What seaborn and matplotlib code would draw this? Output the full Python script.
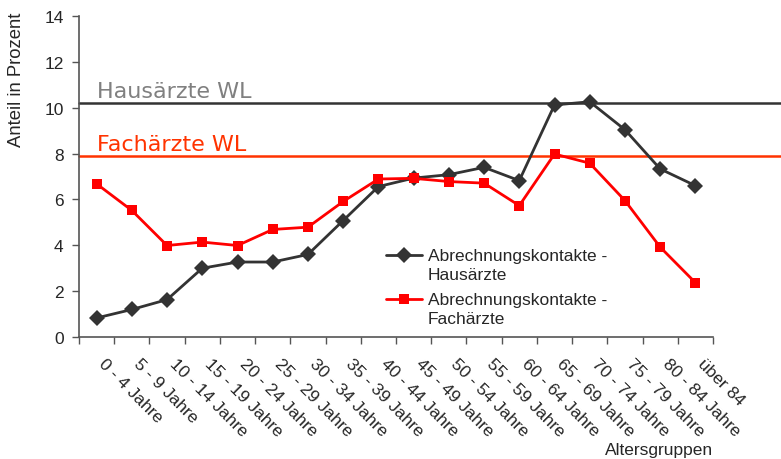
import numpy as np
import pandas as pd
import matplotlib
matplotlib.use("Agg")
import matplotlib.pyplot as plt
import matplotlib.transforms as mtransforms
from matplotlib.legend_handler import HandlerLine2D
import seaborn as sns

# ── Data ──────────────────────────────────────────────────────────────────────

age_groups = ["0 - 4 Jahre", "5 - 9 Jahre", "10 - 14 Jahre", "15 - 19 Jahre",
              "20 - 24 Jahre", "25 - 29 Jahre", "30 - 34 Jahre", "35 - 39 Jahre",
              "40 - 44 Jahre", "45 - 49 Jahre", "50 - 54 Jahre", "55 - 59 Jahre",
              "60 - 64 Jahre", "65 - 69 Jahre", "70 - 74 Jahre", "75 - 79 Jahre",
              "80 - 84 Jahre", "über 84"]
hausaerzte = [0.83, 1.20, 1.63, 3.00, 3.27, 3.27, 3.60, 5.08, 6.56,
              6.93, 7.08, 7.40, 6.82, 10.12, 10.26, 9.04, 7.33, 6.60]
fachaerzte = [6.68, 5.52, 3.99, 4.14, 3.99, 4.69, 4.79, 5.91, 6.89,
              6.92, 6.78, 6.71, 5.73, 7.98, 7.58, 5.95, 3.92, 2.37]
wl_haus = 10.19
wl_fach = 7.91

label_haus = "Abrechnungskontakte -\nHausärzte"
label_fach = "Abrechnungskontakte -\nFachärzte"

df = pd.DataFrame({
    "pos": list(range(len(age_groups))) * 2,
    "wert": hausaerzte + fachaerzte,
    "serie": [label_haus] * len(age_groups) + [label_fach] * len(age_groups),
})


# legend handle sitting next to the first text line (Excel style)
class HandlerFirstLine(HandlerLine2D):
    def __init__(self, dy, **kw):
        super().__init__(**kw)
        self.dy = dy

    def create_artists(self, legend, orig_handle, xdescent, ydescent,
                       width, height, fontsize, trans):
        arts = super().create_artists(legend, orig_handle, xdescent, ydescent,
                                      width, height, fontsize, trans)
        for a in arts:
            a.set_ydata(np.asarray(a.get_ydata()) + self.dy)
        return arts


# ── Style ─────────────────────────────────────────────────────────────────────

sns.set_theme(style="white")
plt.rcParams["font.family"] = ["Liberation Sans", "DejaVu Sans"]

W, H = 781, 460
fig = plt.figure(figsize=(W / 100, H / 100), dpi=100)
ax = fig.add_axes([79 / W, 1 - 338 / H, (713 - 79) / W, (338 - 17) / H])

sns.lineplot(data=df, x="pos", y="wert", hue="serie", style="serie",
             palette={label_haus: "#333333", label_fach: "#FF0000"},
             markers={label_haus: "D", label_fach: "s"},
             dashes=False, linewidth=2.0, markersize=7.8,
             markeredgewidth=0, ax=ax, legend=False, zorder=3)

# reference lines reach to the figure edge
ext = (W - 79) / (713 - 79)
ax.axhline(wl_haus, xmin=0, xmax=ext, color="#333333", lw=1.8, clip_on=False, zorder=2)
ax.axhline(wl_fach, xmin=0, xmax=ext, color="#FF3300", lw=1.8, clip_on=False, zorder=2)
ax.text(0, 10.46, "Hausärzte WL", color="#808080", fontsize=16,
        family="DejaVu Sans", ha="left", va="baseline")
ax.text(0, 8.15, "Fachärzte WL", color="#FF3300", fontsize=16,
        family="DejaVu Sans", ha="left", va="baseline")

# ── Axes ──────────────────────────────────────────────────────────────────────

ax.set_xlim(-0.5, len(age_groups) - 0.5)
ax.set_ylim(0, 14)
ax.set_yticks(np.arange(0, 15, 2))
ax.tick_params(axis="y", labelsize=12.5, length=5, width=1, color="#555555",
               left=True, pad=6)

ax.set_xticks(range(len(age_groups)))
ax.set_xticks(np.arange(-0.5, len(age_groups)), minor=True)
ax.set_xticklabels(age_groups, rotation=-45, ha="left", va="top",
                   rotation_mode="anchor", fontsize=12.5)
ax.tick_params(axis="x", which="major", length=0, pad=13)
ax.tick_params(axis="x", which="minor", length=5, width=1, color="#555555",
               bottom=True)
offset = mtransforms.ScaledTranslation(10 / 100, 0, fig.dpi_scale_trans)
for lbl in ax.get_xticklabels():
    lbl.set_transform(lbl.get_transform() + offset)

for side in ["top", "right"]:
    ax.spines[side].set_visible(False)
for side in ["left", "bottom"]:
    ax.spines[side].set_color("#555555")
    ax.spines[side].set_linewidth(1.2)
ax.grid(False)
ax.set_xlabel("")
ax.set_ylabel("")

fig.text(17 / W, 1 - 80 / H, "Anteil in Prozent", rotation=90,
         ha="center", va="center", fontsize=13.3)
fig.text(713 / W, 1 - 451 / H, "Altersgruppen", ha="right", va="center",
         fontsize=12.5)

# ── Legend ────────────────────────────────────────────────────────────────────

h1, = ax.plot([], [], color="#333333", marker="D", lw=2.0, ms=7.8, mew=0)
h2, = ax.plot([], [], color="#FF0000", marker="s", lw=2.0, ms=7.8, mew=0)
leg = ax.legend([h1, h2], [label_haus, label_fach], loc="upper left",
                bbox_to_anchor=(386 / W, 1 - 249 / H),
                bbox_transform=fig.transFigure,
                frameon=False, fontsize=12.5, handlelength=2.1,
                handletextpad=0.3, labelspacing=0.6, borderpad=0,
                borderaxespad=0,
                handler_map={h1: HandlerFirstLine(7.3),
                             h2: HandlerFirstLine(7.3)})
for t in leg.get_texts():
    t.set_linespacing(1.3)

fig.savefig("out.png", dpi=100)
